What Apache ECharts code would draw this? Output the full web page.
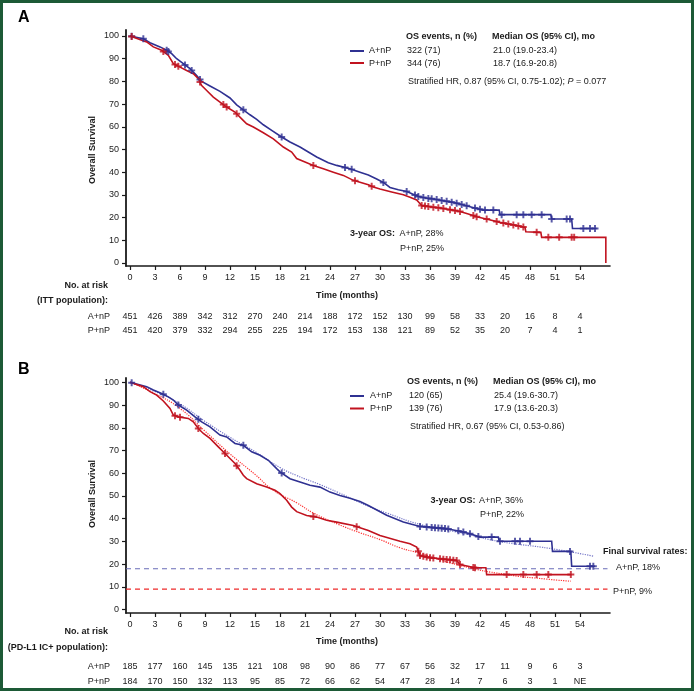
<!DOCTYPE html>
<html><head><meta charset="utf-8">
<script src="https://cdn.jsdelivr.net/npm/echarts@6/dist/echarts.min.js"></script>
<style>html,body{margin:0;padding:0;background:#fff}#c{width:696px;height:692px}</style>
</head><body><div id="c"></div>
<script>
// ---------- DATA ----------
const timeTicks = [0,3,6,9,12,15,18,21,24,27,30,33,36,39,42,45,48,51,54];
const survTicks = [0,10,20,30,40,50,60,70,80,90,100];
const groupNames = ['A+nP','P+nP'];

// Panel A: ITT population, Kaplan-Meier path (months, survival %)
const ittKmA = [[0,100],[1.6,98.8],[2.4,97.0],[3.6,95.2],[4.4,93.7],[5.0,92.2],[5.6,90.0],[6.4,87.8],[7.2,85.6],[8.0,82.6],[8.6,80.0],[9.6,78.0],[10.8,75.6],[12.0,72.7],[12.8,69.7],[13.6,67.5],[14.4,65.3],[15.2,63.3],[16.0,60.9],[17.0,58.4],[18.2,55.5],[19.2,53.3],[20.4,51.1],[21.4,48.9],[22.4,46.7],[23.8,44.2],[24.8,43.0],[26.4,41.5],[27.6,40.0],[28.6,38.8],[29.6,37.0],[30.4,35.5],[31.2,33.3],[32.2,32.3],[33.2,31.5],[34.6,29.3],[35.5,28.6],[36.4,28.2],[37.6,27.4],[38.8,26.7],[39.8,25.8],[40.8,24.8],[41.6,24.0],[42.4,23.3],[44.3,23.3],[44.4,21.3],[50.5,21.3],[50.6,19.4],[53.0,19.4],[53.1,15.2],[56.0,15.2]];
const ittKmP = [[0,100],[2.0,97.4],[2.8,95.2],[3.8,93.7],[4.6,91.5],[5.2,87.8],[6.0,86.3],[6.8,84.8],[7.6,83.4],[8.2,81.2],[8.6,78.2],[9.2,76.0],[10.0,73.1],[10.8,70.9],[11.6,68.7],[12.6,66.5],[13.4,63.5],[14.0,61.3],[14.8,59.9],[16.0,57.4],[17.2,54.7],[18.4,51.1],[19.4,48.9],[20.0,46.0],[21.0,44.5],[22.0,43.0],[23.2,41.5],[24.4,40.0],[25.6,38.6],[26.8,36.4],[28.6,34.5],[29.2,33.5],[30.0,32.6],[31.4,31.3],[32.8,30.1],[33.6,29.0],[34.4,27.8],[35.0,25.3],[36.0,24.8],[37.2,24.2],[38.4,23.5],[39.6,22.7],[40.6,21.6],[41.6,20.4],[43.0,19.2],[44.4,17.9],[45.4,17.2],[46.4,16.5],[47.4,15.7],[47.5,13.8],[49.3,13.5],[49.4,11.3],[57.1,11.3],[57.1,0]];
const ittCensA = [0.2,1.6,4.4,4.6,6.6,7.4,8.4,13.6,18.2,25.8,26.6,30.4,33.2,34.2,34.6,35.2,35.8,36.2,36.8,37.4,38.0,38.6,39.2,39.8,40.4,41.4,42.0,42.6,43.6,44.6,46.4,47.2,48.2,49.4,50.6,52.4,52.8,54.4,55.2,55.8];
const ittCensP = [0.2,4.0,5.4,5.8,8.4,11.2,11.6,12.8,22.0,27.0,29.0,35.0,35.4,35.8,36.4,37.0,37.6,38.4,39.0,39.6,41.2,41.6,42.8,44.0,44.8,45.4,46.0,46.6,47.2,48.8,50.2,51.5,53.0,53.3];
const ittRiskA = [451,426,389,342,312,270,240,214,188,172,152,130,99,58,33,20,16,8,4];
const ittRiskP = [451,420,379,332,294,255,225,194,172,153,138,121,89,52,35,20,7,4,1];

// Panel B: PD-L1 IC+ population
const pdKmA = [[0,100],[2.0,98.1],[2.8,96.6],[3.8,95.1],[4.6,93.6],[5.2,92.2],[5.8,90.0],[6.8,87.8],[7.8,84.8],[8.6,82.6],[9.6,80.4],[10.8,76.8],[11.6,76.0],[12.6,73.1],[13.6,72.3],[14.6,69.4],[15.6,67.9],[16.6,65.7],[17.6,62.0],[18.0,60.6],[19.2,57.6],[20.4,56.1],[21.6,54.7],[22.8,53.9],[24.0,51.7],[25.2,50.2],[26.4,49.0],[27.6,47.6],[28.6,45.8],[28.8,45.1],[30.8,41.5],[32.8,38.5],[34.8,36.6],[38.0,35.6],[39.6,34.5],[40.8,33.4],[42.0,31.9],[44.2,31.9],[44.3,30.1],[50.6,30.1],[50.7,25.6],[52.9,25.6],[53.0,19.1],[55.8,19.1]];
const pdKmP = [[0,100],[1.6,98.1],[2.4,95.9],[3.2,94.4],[4.0,91.8],[4.8,88.5],[5.2,85.6],[5.8,84.8],[7.0,84.1],[7.6,82.6],[8.2,79.7],[8.8,77.5],[9.6,75.3],[10.6,71.6],[11.4,68.7],[12.0,66.5],[12.6,64.3],[13.2,61.3],[13.6,59.1],[14.0,57.6],[15.2,55.4],[16.4,53.9],[17.4,52.5],[18.0,51.0],[18.8,48.1],[19.4,45.1],[20.0,43.1],[21.2,41.4],[22.4,40.7],[23.6,39.3],[24.8,38.5],[26.8,37.0],[27.6,36.0],[28.6,34.8],[28.8,34.1],[30.0,32.6],[32.4,30.1],[33.6,29.0],[34.4,27.5],[34.8,23.8],[36.0,22.8],[39.2,21.6],[39.6,19.8],[41.4,18.4],[42.7,18.4],[42.8,15.4],[53.0,15.4]];
const pdCensA = [0.2,4.0,5.8,8.2,13.6,18.2,34.8,35.6,36.2,36.6,37.0,37.4,37.8,38.2,39.4,40.0,40.8,41.8,43.4,44.4,46.2,46.8,48.0,52.8,55.2,55.6];
const pdCensP = [5.4,6.0,8.2,11.4,12.8,22.0,27.2,34.6,34.8,35.2,35.6,36.0,36.4,37.2,37.6,38.0,38.4,38.8,39.2,39.6,41.2,41.4,45.2,47.2,48.8,50.2,52.9];
const pdFitA = [[0,100],[3,96],[6,90.5],[9,82.8],[12,75.8],[15,69.5],[18,62.5],[20,59],[22.8,55],[25,51.5],[28.6,45.5],[30.8,42.5],[34.8,37.5],[40,33.5],[44.3,30],[50.6,26.8],[55.6,23.5]];
const pdFitP = [[0,100],[3,95],[6,88.5],[9,78.5],[12,68.5],[15,59.5],[17.2,52.5],[20,47],[22,42.5],[25,37.5],[27.6,33.8],[30,30.8],[32.4,27.2],[34.8,24.8],[39.6,19.4],[45,15.5],[50,13.4],[52.9,12.5]];
const pdFinalRates = [18, 9];
const pdRiskA = [185,177,160,145,135,121,108,98,90,86,77,67,56,32,17,11,9,6,3];
const pdRiskP = [184,170,150,132,113,95,85,72,66,62,54,47,28,14,7,6,3,1,'NE'];

// ---------- STYLE ----------
const BLUE = '#2f3192', RED = '#c1131f';
const FONT = '"Liberation Sans", Arial, Helvetica, sans-serif';
const XMIN = -0.48, XMAX = 57.6;
const PLUS = 'path://M3.6,0H6.4V3.6H10V6.4H6.4V10H3.6V6.4H0V3.6H3.6Z';

// survival on the read path at time t (linear between read points, last value after a vertical drop)
function pathVal(curve, t) {
  for (let i = curve.length - 1; i >= 0; i--) {
    if (curve[i][0] <= t) {
      const a = curve[i], b = curve[i + 1];
      if (!b || b[0] === a[0]) return a[1];
      return a[1] + (b[1] - a[1]) * (t - a[0]) / (b[0] - a[0]);
    }
  }
  return curve[0][1];
}
function censorPts(curve, times) { return times.map(t => [t, pathVal(curve, t)]); }

function xAx(gi) {
  return {
    type: 'value', gridIndex: gi, min: XMIN, max: XMAX,
    axisLine: { show: true, onZero: false, lineStyle: { color: '#1a1a1a', width: 1.6 } },
    axisTick: { show: true, customValues: timeTicks, length: 4, lineStyle: { color: '#1a1a1a', width: 1.2 } },
    axisLabel: { customValues: timeTicks, fontSize: 9, fontFamily: FONT, color: '#222', margin: 7 },
    splitLine: { show: false }
  };
}
function yAx(gi, mn, mx) {
  return {
    type: 'value', gridIndex: gi, min: mn, max: mx,
    axisLine: { show: true, onZero: false, lineStyle: { color: '#1a1a1a', width: 1.8 } },
    axisTick: { show: true, customValues: survTicks, length: 4, lineStyle: { color: '#1a1a1a', width: 1.2 } },
    axisLabel: { customValues: survTicks, fontSize: 9, fontFamily: FONT, color: '#222', margin: 7 },
    splitLine: { show: false }
  };
}
function km(gi, data, color, name) {
  return { type: 'line', name, xAxisIndex: gi, yAxisIndex: gi, data, showSymbol: false, symbol: 'none',
    lineStyle: { color, width: 1.6, join: 'miter' }, z: 4, animation: false };
}
function cens(gi, curve, times, color) {
  return { type: 'scatter', xAxisIndex: gi, yAxisIndex: gi, data: censorPts(curve, times), symbol: PLUS, symbolSize: 7,
    itemStyle: { color }, z: 5, animation: false, silent: true };
}

const chart = echarts.init(document.getElementById('c'), null, { renderer: 'canvas' });
chart.setOption({
  backgroundColor: '#ffffff',
  animation: false,
  grid: [
    { left: 126, top: 30, width: 484, height: 236 },
    { left: 126, top: 378, width: 484, height: 235 }
  ],
  xAxis: [xAx(0), xAx(1)],
  yAxis: [yAx(0, -1.32, 102.64), yAx(1, -1.5, 101.9)],
  series: [
    km(0, ittKmA, BLUE, groupNames[0]),
    km(0, ittKmP, RED, groupNames[1]),
    cens(0, ittKmA, ittCensA, BLUE),
    cens(0, ittKmP, ittCensP, RED),
    { type: 'line', xAxisIndex: 1, yAxisIndex: 1, data: pdFitA, smooth: true, symbol: 'none',
      lineStyle: { color: '#7476c8', width: 1.2, type: 'dotted' }, z: 3 },
    { type: 'line', xAxisIndex: 1, yAxisIndex: 1, data: pdFitP, smooth: true, symbol: 'none',
      lineStyle: { color: '#ff3030', width: 1.2, type: 'dotted' }, z: 3 },
    { type: 'line', xAxisIndex: 1, yAxisIndex: 1, data: [[XMIN, pdFinalRates[0]], [57.3, pdFinalRates[0]]], symbol: 'none',
      lineStyle: { color: '#6a6cb8', width: 1.1, type: [5, 4] }, z: 2 },
    { type: 'line', xAxisIndex: 1, yAxisIndex: 1, data: [[XMIN, pdFinalRates[1]], [57.3, pdFinalRates[1]]], symbol: 'none',
      lineStyle: { color: '#ee2a2a', width: 1.1, type: [5, 4] }, z: 2 },
    km(1, pdKmA, BLUE, groupNames[0]),
    km(1, pdKmP, RED, groupNames[1]),
    cens(1, pdKmA, pdCensA, BLUE),
    cens(1, pdKmP, pdCensP, RED)
  ]
});

// ---------- ANNOTATIONS ----------
const g = [];
function txt(x, y, text, opt = {}) {
  g.push({ type: 'text', x, y, rotation: opt.rotation || 0, silent: true, z: 10,
    style: { text, fontSize: opt.size || 9, fontFamily: FONT, fontWeight: opt.bold ? 'bold' : 'normal',
      fontStyle: 'normal', fill: opt.color || '#1a1a1a', align: opt.align || 'left', verticalAlign: 'middle',
      rich: opt.rich } });
}
function seg(x1, y1, x2, y2, color) {
  g.push({ type: 'line', shape: { x1, y1, x2, y2 }, style: { stroke: color, lineWidth: 2 }, silent: true, z: 10 });
}
const richI = { i: { fontStyle: 'italic', fontSize: 9, fontFamily: FONT, fill: '#1a1a1a' } };

// frame
g.push({ type: 'rect', shape: { x: 1.5, y: 1.5, width: 691, height: 688 }, style: { fill: null, stroke: '#1d5a36', lineWidth: 3 }, silent: true, z: 20 });

// Panel A
txt(18, 18, 'A', { bold: true, size: 16, color: '#000' });
txt(93, 150, 'Overall Survival', { bold: true, rotation: Math.PI / 2, align: 'center' });
txt(406, 37, 'OS events, n (%)', { bold: true });
txt(492, 37, 'Median OS (95% CI), mo', { bold: true });
seg(350, 51, 364, 51, BLUE); seg(350, 63, 364, 63, RED);
txt(369, 50.5, groupNames[0]); txt(407, 50.5, '322 (71)'); txt(493, 50.5, '21.0 (19.0-23.4)');
txt(369, 63.5, groupNames[1]); txt(407, 63.5, '344 (76)'); txt(493, 63.5, '18.7 (16.9-20.8)');
txt(408, 81.5, 'Stratified HR, 0.87 (95% CI, 0.75-1.02); {i|P} = 0.077', { rich: richI });
txt(350, 234, '3-year OS:', { bold: true });
txt(399.5, 234, 'A+nP, 28%');
txt(400, 249, 'P+nP, 25%');
txt(347, 296, 'Time (months)', { bold: true, align: 'center' });
txt(108, 286, 'No. at risk', { bold: true, align: 'right' });
txt(108, 301, '(ITT population):', { bold: true, align: 'right' });
txt(110, 317, groupNames[0], { align: 'right' });
txt(110, 331, groupNames[1], { align: 'right' });

// Panel B
txt(18, 370, 'B', { bold: true, size: 16, color: '#000' });
txt(93, 494, 'Overall Survival', { bold: true, rotation: Math.PI / 2, align: 'center' });
txt(407, 382, 'OS events, n (%)', { bold: true });
txt(493, 382, 'Median OS (95% CI), mo', { bold: true });
seg(350, 396, 364, 396, BLUE); seg(350, 408.5, 364, 408.5, RED);
txt(370, 395.5, groupNames[0]); txt(409, 395.5, '120 (65)'); txt(494, 395.5, '25.4 (19.6-30.7)');
txt(370, 409, groupNames[1]); txt(409, 409, '139 (76)'); txt(494, 409, '17.9 (13.6-20.3)');
txt(410, 427, 'Stratified HR, 0.67 (95% CI, 0.53-0.86)');
txt(430.5, 500.5, '3-year OS:', { bold: true });
txt(479, 500.5, 'A+nP, 36%');
txt(480, 514.5, 'P+nP, 22%');
txt(603, 551.5, 'Final survival rates:', { bold: true });
txt(616, 568, 'A+nP, ' + pdFinalRates[0] + '%');
txt(613, 591.5, 'P+nP, ' + pdFinalRates[1] + '%');
txt(347, 642, 'Time (months)', { bold: true, align: 'center' });
txt(108, 632, 'No. at risk', { bold: true, align: 'right' });
txt(108, 648, '(PD-L1 IC+ population):', { bold: true, align: 'right' });
txt(110, 667, groupNames[0], { align: 'right' });
txt(110, 682, groupNames[1], { align: 'right' });

// at-risk numbers positioned by the x axis scale
timeTicks.forEach((t, i) => {
  const xa = chart.convertToPixel({ xAxisIndex: 0 }, t);
  const xb = chart.convertToPixel({ xAxisIndex: 1 }, t);
  txt(xa, 317, String(ittRiskA[i]), { align: 'center' });
  txt(xa, 331, String(ittRiskP[i]), { align: 'center' });
  txt(xb, 667, String(pdRiskA[i]), { align: 'center' });
  txt(xb, 682, String(pdRiskP[i]), { align: 'center' });
});

chart.setOption({ graphic: g });
</script></body></html>
